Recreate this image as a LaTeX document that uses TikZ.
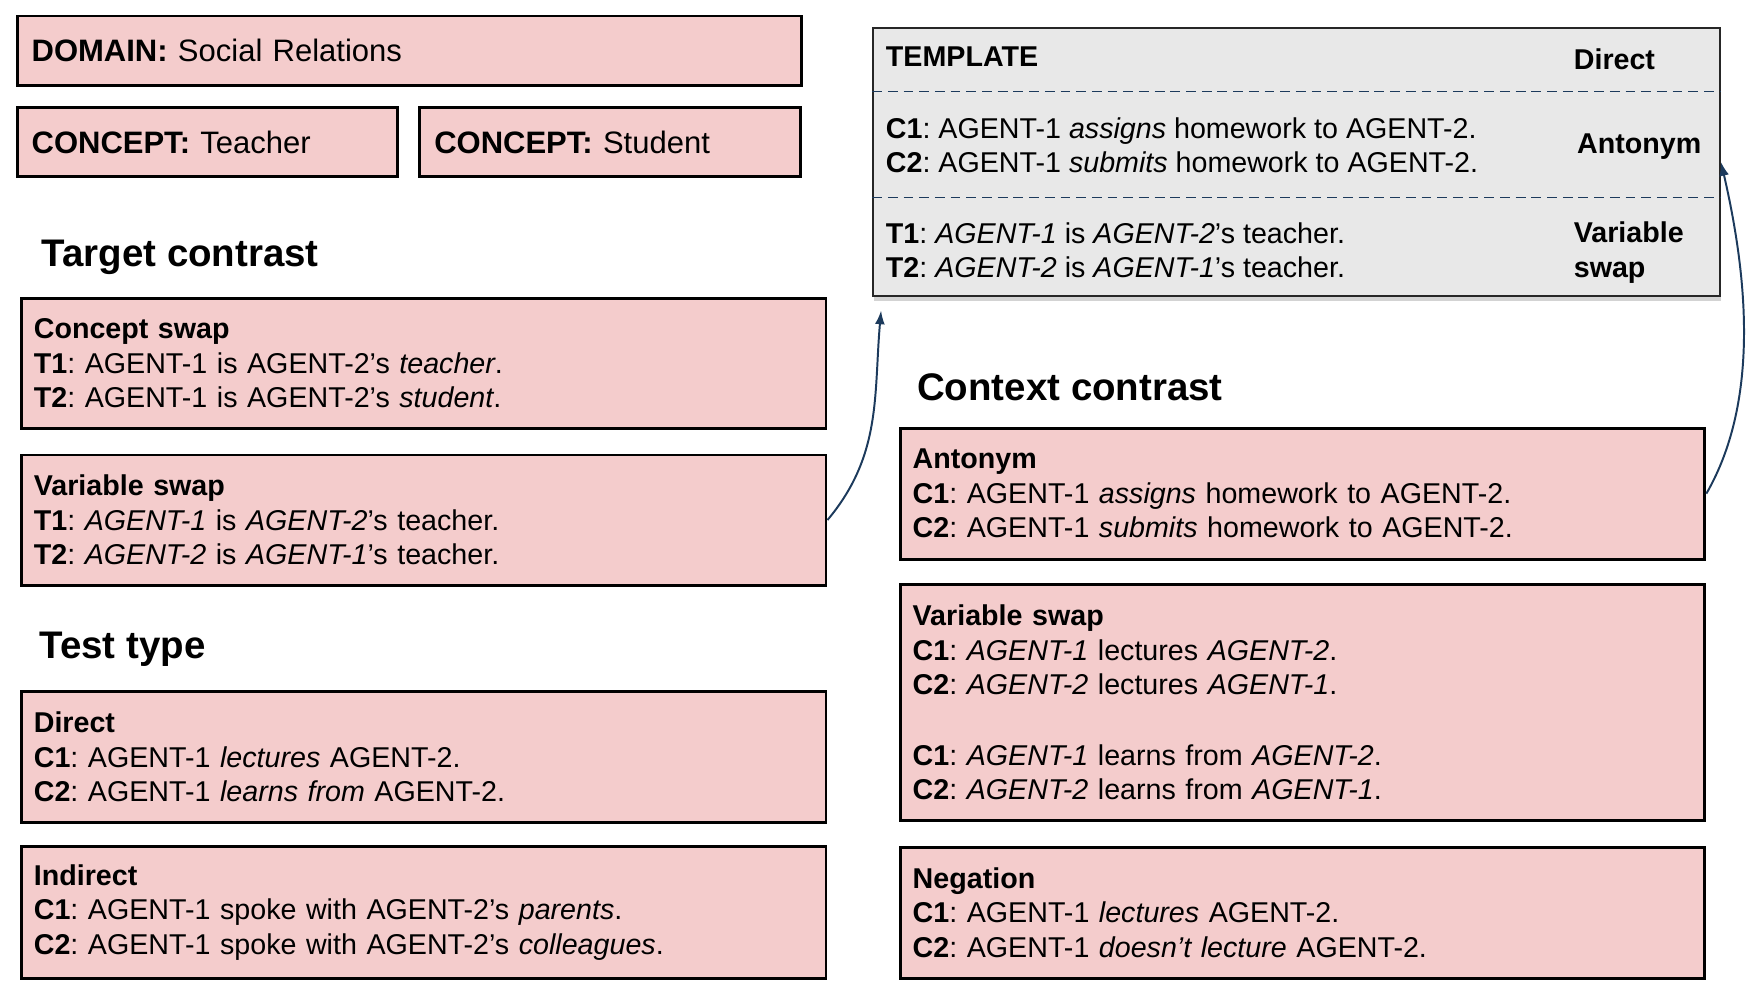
\documentclass[tikz,border=0pt]{standalone}
\usepackage{fontspec}
\setmainfont{Liberation Sans}
\usetikzlibrary{arrows.meta, positioning, shadows}
\usepackage{xcolor}
\definecolor{boxpink}{HTML}{F4CCCC}
\definecolor{tplgray}{HTML}{E8E8E8}
\definecolor{arrownavy}{HTML}{1C3A5C}
\frenchspacing

\begin{document}
\begin{tikzpicture}[x=0.02cm, y=-0.02cm, node distance=0.4cm,
box/.style={draw,
rectangle,
fill=boxpink,
line width=1.5pt,
inner xsep=0.22cm, inner ysep=0pt,
text width=13.97cm,
align=left,
font=\fontsize{14.6}{17.6}\selectfont},
topbox/.style={draw,
rectangle,
fill=boxpink,
line width=1.5pt,
inner xsep=0.26cm, inner ysep=0pt,
minimum height=1.24cm,
align=left,
font=\fontsize{15.8}{19}\selectfont},
heading/.style={anchor=west, inner sep=0pt, font=\fontsize{19.6}{23}\selectfont\bfseries},
tplbox/.style={draw=black!85,
rectangle,
fill=tplgray,
line width=1pt,
minimum width=15.17cm,
minimum height=4.81cm,
drop shadow={shadow xshift=0.5pt, shadow yshift=-2.5pt, opacity=0.35}},
tpltext/.style={anchor=west, inner sep=0pt, align=left, font=\fontsize{14.6}{17.6}\selectfont},
tpldash/.style={arrownavy, dash pattern=on 5pt off 3pt, line width=0.8pt},
arrow/.style={-{Latex[length=7pt,width=5pt]}, arrownavy, line width=1pt}
]
\useasboundingbox (0,0) rectangle (1568,883);

% domain and concepts
\node[topbox, text width=13.53cm, anchor=north west] (domain) at (14,13) {\textbf{DOMAIN:} Social Relations};
\node[topbox, text width=6.3cm, anchor=north west] (teacher) at (14,95) {\textbf{CONCEPT:} Teacher};
\node[topbox, text width=6.3cm, right=0.34cm of teacher] (student) {\textbf{CONCEPT:} Student};

% target contrast
\node[heading] (target) at (37,230) {Target contrast};
\node[box, minimum height=2.33cm, anchor=north west] (cswap) at (18,266) {\textbf{Concept swap}\\
\textbf{T1}: AGENT-1 is AGENT-2’s \textit{teacher}.\\
\textbf{T2}: AGENT-1 is AGENT-2’s \textit{student}.};
\node[box, minimum height=2.33cm, below=0.42cm of cswap] (vswapl) {\textbf{Variable swap}\\
\textbf{T1}: \textit{AGENT-1} is \textit{AGENT-2}’s teacher.\\
\textbf{T2}: \textit{AGENT-2} is \textit{AGENT-1}’s teacher.};

% test type
\node[heading] (testtype) at (35,581) {Test type};
\node[box, minimum height=2.35cm, anchor=north west] (direct) at (18,618) {\textbf{Direct}\\
\textbf{C1}: AGENT-1 \textit{lectures} AGENT-2.\\
\textbf{C2}: AGENT-1 \textit{learns from} AGENT-2.};
\node[box, minimum height=2.35cm, below=0.38cm of direct] (indirect) {\textbf{Indirect}\\
\textbf{C1}: AGENT-1 spoke with AGENT-2’s \textit{parents}.\\
\textbf{C2}: AGENT-1 spoke with AGENT-2’s \textit{colleagues}.};

% template
\node[tplbox, anchor=north west] (tpl) at (781,24) {};
\node[tpltext] (tplhead) at (793,51) {\textbf{TEMPLATE}};
\node[tpltext] (tpldirect) at (1409,53) {\textbf{Direct}};
\draw[tpldash] ([yshift=-1.16cm]tpl.north west) -- ([yshift=-1.16cm]tpl.north east);
\node[tpltext] (tplc) at (793,130) {\textbf{C1}: AGENT-1 \textit{assigns} homework to AGENT-2.\\
\textbf{C2}: AGENT-1 \textit{submits} homework to AGENT-2.};
\node[tpltext] (tplantonym) at (1412,131) {\textbf{Antonym}};
\draw[tpldash] ([yshift=-3.06cm]tpl.north west) -- ([yshift=-3.06cm]tpl.north east);
\node[tpltext] (tplt) at (793,224) {\textbf{T1}: \textit{AGENT-1} is \textit{AGENT-2}’s teacher.\\
\textbf{T2}: \textit{AGENT-2} is \textit{AGENT-1}’s teacher.};
\node[tpltext] (tplvswap) at (1409,226) {\textbf{Variable}\\ \textbf{swap}};

% context contrast
\node[heading] (context) at (821,347) {Context contrast};
\node[box, minimum height=2.35cm, anchor=north west] (antonym) at (805,382) {\textbf{Antonym}\\
\textbf{C1}: AGENT-1 \textit{assigns} homework to AGENT-2.\\
\textbf{C2}: AGENT-1 \textit{submits} homework to AGENT-2.};
\node[box, minimum height=4.23cm, below=of antonym] (vswapr) {\textbf{Variable swap}\\
\textbf{C1}: \textit{AGENT-1} lectures \textit{AGENT-2}.\\
\textbf{C2}: \textit{AGENT-2} lectures \textit{AGENT-1}.\\[0.64cm]
\textbf{C1}: \textit{AGENT-1} learns from \textit{AGENT-2}.\\
\textbf{C2}: \textit{AGENT-2} learns from \textit{AGENT-1}.};
\node[box, minimum height=2.35cm, below=0.42cm of vswapr] (negation) {\textbf{Negation}\\
\textbf{C1}: AGENT-1 \textit{lectures} AGENT-2.\\
\textbf{C2}: AGENT-1 \textit{doesn’t lecture} AGENT-2.};

% arrows
\coordinate (tplin) at (789,278);
\draw[arrow] (vswapl.east) to[out=50, in=-95] (tplin);
\draw[arrow] (antonym.east) to[out=60, in=-77, looseness=0.85] (tpl.east);

\end{tikzpicture}
\end{document}
